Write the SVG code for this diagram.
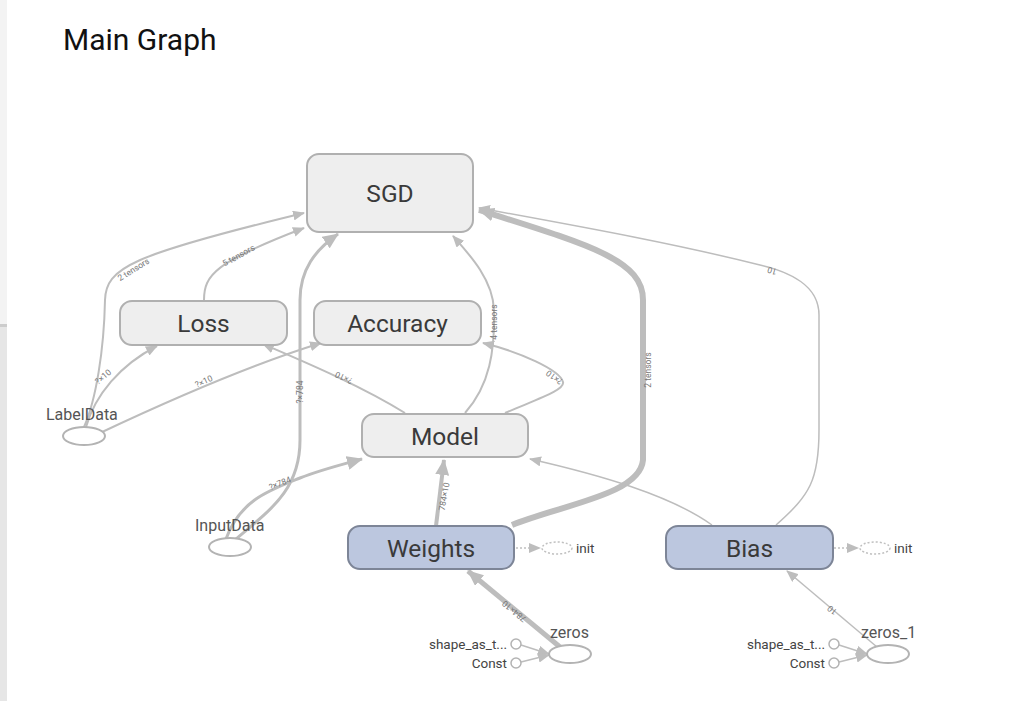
<svg xmlns="http://www.w3.org/2000/svg" width="1027" height="701" viewBox="0 0 1027 701">
<style>
.op rect{fill:#eeeeee;stroke:#b0b0b0;stroke-width:2}
.var rect{fill:#bcc7df;stroke:#7d8597;stroke-width:2}
.nl{font-family:Roboto,"Liberation Sans",sans-serif;font-size:24.5px;fill:#3a3a3a;text-anchor:middle}
.sl{font-family:Roboto,"Liberation Sans",sans-serif;font-size:16px;fill:#555}
.tl{font-family:Roboto,"Liberation Sans",sans-serif;font-size:13.5px;fill:#444}
.el{font-family:Roboto,"Liberation Sans",sans-serif;font-size:8.5px;fill:#777;text-anchor:middle}
.e{fill:none;stroke:#bdbdbd;stroke-width:2}
.ov{fill:#fff;stroke:#b3b3b3;stroke-width:2}
.dot{fill:none;stroke:#c0c0c0;stroke-width:1.5;stroke-dasharray:2 2}
</style>
<defs>
<marker id="a" markerUnits="userSpaceOnUse" markerWidth="12" markerHeight="10" refX="11" refY="5" orient="auto"><path d="M0,0 L12,5 L0,10 z" fill="#bdbdbd"/></marker>
<marker id="b" markerUnits="userSpaceOnUse" markerWidth="16" markerHeight="14" refX="15" refY="7" orient="auto"><path d="M0,0 L16,7 L0,14 z" fill="#bdbdbd"/></marker>
</defs>
<rect x="0" y="0" width="1027" height="701" fill="#fff"/>
<rect x="0" y="0" width="7" height="324" fill="#f3f3f3"/>
<rect x="0" y="324" width="7" height="3" fill="#cccccc"/>
<rect x="0" y="327" width="7" height="374" fill="#e6e6e6"/>
<text x="63" y="50" font-family="Roboto,'Liberation Sans',sans-serif" font-size="30" fill="#111">Main Graph</text>

<g id="connectors">
<path class="e" d="M84 427 C96 400,104 350,105 300 C106 268,130 255,304 213" marker-end="url(#a)"/>
<path class="e" d="M204 300 C204 275,215 262,304 228" marker-end="url(#a)"/>
<path class="e" d="M86 427 C95 395,120 365,157 346" marker-end="url(#a)"/>
<path class="e" d="M100 433 C170 400,250 365,321 343" marker-end="url(#a)"/>
<path class="e" d="M405 413 C360 385,300 360,263 344" marker-end="url(#a)"/>
<path class="e" d="M505 413 C540 398,565 390,563 382 C560 370,520 352,483 343" marker-end="url(#a)"/>
<path class="e" d="M465 413 C490 385,495 350,494 310 C493 280,470 255,453 236" marker-end="url(#a)"/>
<path class="e" style="stroke-width:3" d="M236 539 C270 510,300 490,300 440 L300 300 C300 270,315 250,338 234" marker-end="url(#b)"/>
<path class="e" style="stroke-width:3" d="M226 539 C240 500,270 490,300 478 C320 470,340 465,362 459" marker-end="url(#b)"/>
<path class="e" style="stroke-width:4" d="M436 526 L444 460" marker-end="url(#b)"/>
<path class="e" style="stroke-width:6" d="M512 525 C560 505,640 495,643 460 L643 300 C643 260,590 245,479 210" marker-end="url(#b)"/>
<path class="e" style="stroke-width:1.5" d="M712 525 C670 495,600 475,530 459" marker-end="url(#a)"/>
<path class="e" style="stroke-width:1.5" d="M776 525 C810 495,819 480,819 430 L819 315 C819 285,790 272,760 265 C680 245,600 230,479 208" marker-end="url(#a)"/>
<path class="e" style="stroke-width:5" d="M560 647 L468 571" marker-end="url(#b)"/>
<path class="e" style="stroke-width:1.5" d="M877 647 L787 571" marker-end="url(#a)"/>
<path class="e" style="stroke-width:1.5" d="M521 645 L549 654" marker-end="url(#a)"/>
<path class="e" style="stroke-width:1.5" d="M521 662 L549 655" marker-end="url(#a)"/>
<path class="e" style="stroke-width:1.5" d="M839 645 L867 654" marker-end="url(#a)"/>
<path class="e" style="stroke-width:1.5" d="M839 662 L867 655" marker-end="url(#a)"/>
<path class="dot" d="M516 548 L540 548" marker-end="url(#a)"/>
<path class="dot" d="M834 548 L858 548" marker-end="url(#a)"/>
<text class="el" transform="translate(135,272) rotate(-32)">2 tensors</text>
<text class="el" transform="translate(240,258) rotate(-29)">5 tensors</text>
<text class="el" transform="translate(105,379) rotate(-40)">?×10</text>
<text class="el" transform="translate(205,384) rotate(-25)">?×10</text>
<text class="el" transform="translate(345,375) rotate(204)">?×10</text>
<text class="el" transform="translate(556,375) rotate(216)">?×10</text>
<text class="el" transform="translate(497,322) rotate(-90)">4 tensors</text>
<text class="el" transform="translate(303,392) rotate(-90)">?×784</text>
<text class="el" transform="translate(281,486) rotate(-22)">?×784</text>
<text class="el" transform="translate(447,497) rotate(-80)">784×10</text>
<text class="el" transform="translate(516,609) rotate(219)">784×10</text>
<text class="el" transform="translate(834,608) rotate(220)">10</text>
<text class="el" transform="translate(773,268) rotate(197)">10</text>
<text class="el" transform="translate(651,370) rotate(-90)">2 tensors</text>
</g>

<g id="SGD" class="op"><rect x="307" y="154" width="166" height="78" rx="12"/><text class="nl" x="390" y="202">SGD</text></g>
<g id="Loss" class="op"><rect x="120" y="301" width="167" height="44" rx="12"/><text class="nl" x="203.5" y="332">Loss</text></g>
<g id="Accuracy" class="op"><rect x="314" y="301" width="167" height="44" rx="12"/><text class="nl" x="397.5" y="332">Accuracy</text></g>
<g id="Model" class="op"><rect x="362" y="414" width="166" height="43" rx="12"/><text class="nl" x="445" y="444.5">Model</text></g>
<g id="Weights" class="var"><rect x="348" y="526" width="166" height="43" rx="12"/><text class="nl" x="431" y="556.5">Weights</text></g>
<g id="Bias" class="var"><rect x="666" y="526" width="167" height="43" rx="12"/><text class="nl" x="749.5" y="556.5">Bias</text></g>
<g id="LabelData"><ellipse class="ov" cx="84" cy="436" rx="21" ry="9"/><text class="sl" x="46" y="420">LabelData</text></g>
<g id="InputData"><ellipse class="ov" cx="230" cy="547" rx="21" ry="9"/><text class="sl" x="195" y="531">InputData</text></g>
<g id="zeros"><ellipse class="ov" cx="570" cy="654" rx="21" ry="9"/><text class="sl" x="550" y="638">zeros</text></g>
<g id="zeros_1"><ellipse class="ov" cx="888" cy="654" rx="21" ry="9"/><text class="sl" x="861" y="638">zeros_1</text></g>
<g id="shape_as_t"><circle class="ov" style="stroke-width:1.5" cx="516" cy="644" r="5"/><text class="tl" x="507" y="649" text-anchor="end">shape_as_t...</text></g>
<g id="Const"><circle class="ov" style="stroke-width:1.5" cx="516" cy="663" r="5"/><text class="tl" x="507" y="668" text-anchor="end">Const</text></g>
<g id="shape_as_t_1"><circle class="ov" style="stroke-width:1.5" cx="834" cy="644" r="5"/><text class="tl" x="825" y="649" text-anchor="end">shape_as_t...</text></g>
<g id="Const_1"><circle class="ov" style="stroke-width:1.5" cx="834" cy="663" r="5"/><text class="tl" x="825" y="668" text-anchor="end">Const</text></g>
<g id="init"><ellipse class="dot" cx="557" cy="548" rx="15" ry="6"/><text class="tl" x="576" y="553">init</text></g>
<g id="init_1"><ellipse class="dot" cx="875" cy="548" rx="15" ry="6"/><text class="tl" x="894" y="553">init</text></g>
</svg>
